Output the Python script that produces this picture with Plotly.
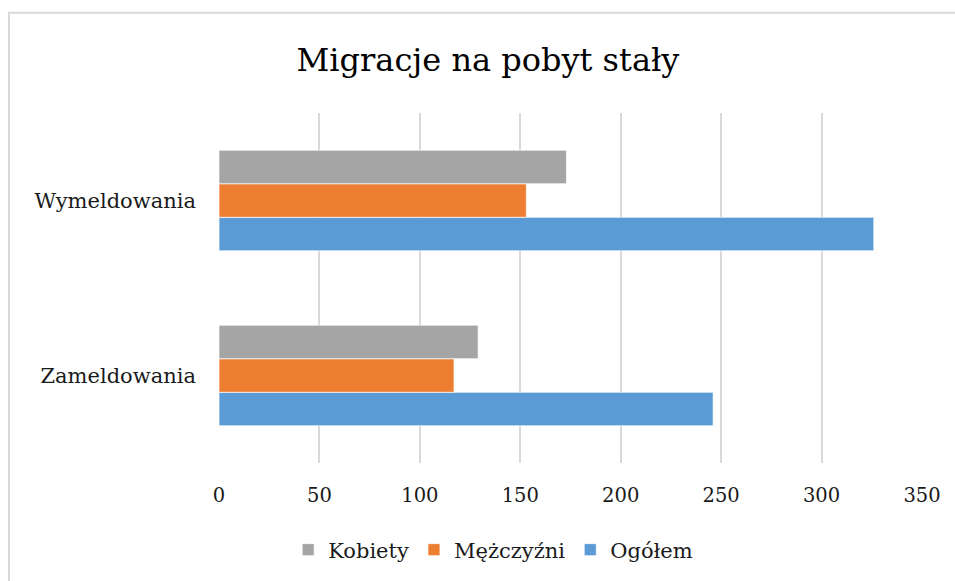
import plotly.graph_objects as go

categories = ["Zameldowania", "Wymeldowania"]
ogolem = [246, 326]
mezczyzni = [117, 153]
kobiety = [129, 173]
x_ticks = [0, 50, 100, 150, 200, 250, 300, 350]

FONT = "DejaVu Serif"

fig = go.Figure()
for name, vals, col in [("Ogółem", ogolem, "#5B9BD5"),
                        ("Mężczyźni", mezczyzni, "#ED7D31"),
                        ("Kobiety", kobiety, "#A5A5A5")]:
    fig.add_trace(go.Bar(y=categories, x=vals, name=name, orientation="h",
                         marker=dict(color=col, line=dict(color="white", width=0.7))))

fig.update_layout(
    width=955, height=581,
    margin=dict(l=219, r=33, t=113, b=117),
    paper_bgcolor="white", plot_bgcolor="white",
    barmode="group", bargap=0.425, bargroupgap=0,
    title=dict(text="Migracje na pobyt stały", x=0.511, xanchor="center",
               y=1 - 60/581, yanchor="middle",
               font=dict(family=FONT, size=32, color="#000")),
    font=dict(family=FONT, size=20, color="#000"),
    xaxis=dict(range=[0, 350], tickvals=x_ticks, showgrid=True,
               gridcolor="#D9D9D9", gridwidth=2, zeroline=False,
               showline=False, ticks="", ticklabelstandoff=18,
               tickfont=dict(family=FONT, size=19.5, color="#1a1a1a")),
    yaxis=dict(categoryorder="array", categoryarray=categories, showgrid=False,
               showline=False, ticks="", ticklabelstandoff=22,
               tickfont=dict(family=FONT, size=21, color="#1a1a1a")),
    legend=dict(orientation="h", x=0.39, xanchor="center", y=-0.245, yanchor="middle",
                traceorder="reversed", font=dict(family=FONT, size=21, color="#1a1a1a"),
                itemwidth=30),
    shapes=[dict(type="rect", xref="paper", yref="paper",
                 x0=(9-219)/703, x1=1 + 45/703, y0=-0.5, y1=1 + (113-12.5)/351,
                 line=dict(color="#D9D9D9", width=2), fillcolor="rgba(0,0,0,0)", layer="below")],
)

fig.write_html("out.html", config={"displayModeBar": False},
               post_script="document.body.style.margin='0';document.body.style.overflow='hidden';")
